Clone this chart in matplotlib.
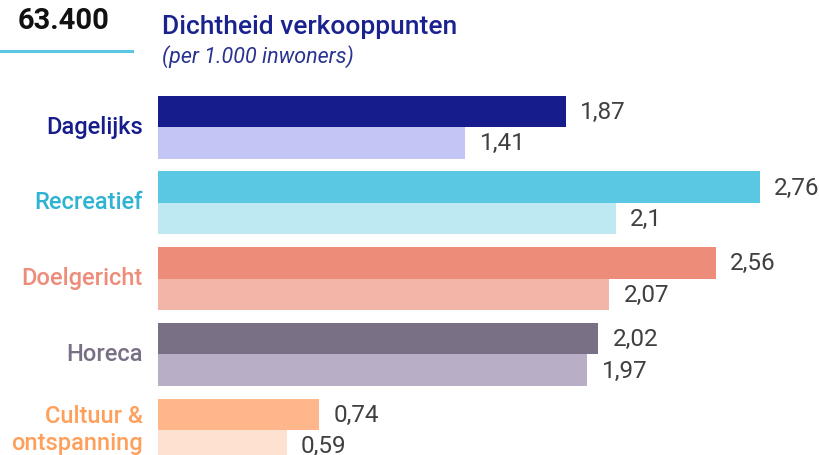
import matplotlib
matplotlib.use("Agg")
import matplotlib.pyplot as plt
import numpy as np

plt.rcParams['font.family'] = ['Roboto', 'DejaVu Sans']

categories = ['Dagelijks', 'Recreatief', 'Doelgericht', 'Horeca', 'Cultuur &\nontspanning']
valuesMain = [1.87, 2.76, 2.56, 2.02, 0.74]
valuesRef = [1.41, 2.1, 2.07, 1.97, 0.59]
darkColors = ['#161c8c', '#5bc8e3', '#ee8c7a', '#7a7086', '#ffb68a']
lightColors = ['#c3c5f5', '#bee9f2', '#f2b5a7', '#b8afc6', '#ffe1d2']
labelColors = ['#161c8c', '#2fb3d2', '#ee8c7a', '#7a7086', '#ff9f5c']

W, H = 820, 455
fig = plt.figure(figsize=(W / 100, H / 100), dpi=100)

# axes start where the bars start
ax = fig.add_axes([158 / W, 0, (W - 158) / W, 1])
ax.set_xlim(0, (W - 158) / 218)
ax.set_ylim(4.33, -1.678)
ax.axis('off')

y = np.arange(len(categories))
barH = 0.416

ax.barh(y - barH / 2, valuesMain, height=barH, color=darkColors)
ax.barh(y + barH / 2, valuesRef, height=barH, color=lightColors)

def fmt(v):
    return str(v).replace('.', ',')

for i in range(len(categories)):
    ax.text(valuesMain[i] + 0.065, y[i] - barH / 2 + 0.015, fmt(valuesMain[i]),
            va='center', ha='left', fontsize=17.5, color='#404040')
    ax.text(valuesRef[i] + 0.065, y[i] + barH / 2 + 0.015, fmt(valuesRef[i]),
            va='center', ha='left', fontsize=17.5, color='#404040')
    ax.text(-0.07, y[i], categories[i], va='center', ha='right',
            fontsize=17, fontweight='medium', color=labelColors[i],
            linespacing=1.2)

# header
fig.text(18 / W, 1 - 21 / H, '63.400', fontsize=21, fontweight='bold',
         color='#111111', va='center', ha='left')
fig.add_artist(plt.Line2D([0, 132 / W], [1 - 51 / H, 1 - 51 / H],
                          color='#5bc8e3', lw=2.2))
fig.text(162 / W, 1 - 27 / H, 'Dichtheid verkooppunten', fontsize=19,
         fontweight='medium', color='#1a2290', va='center', ha='left')
fig.text(162 / W, 1 - 57 / H, '(per 1.000 inwoners)', fontsize=15.5,
         style='italic', color='#2a3390', va='center', ha='left')

fig.savefig('out.png', dpi=100)
